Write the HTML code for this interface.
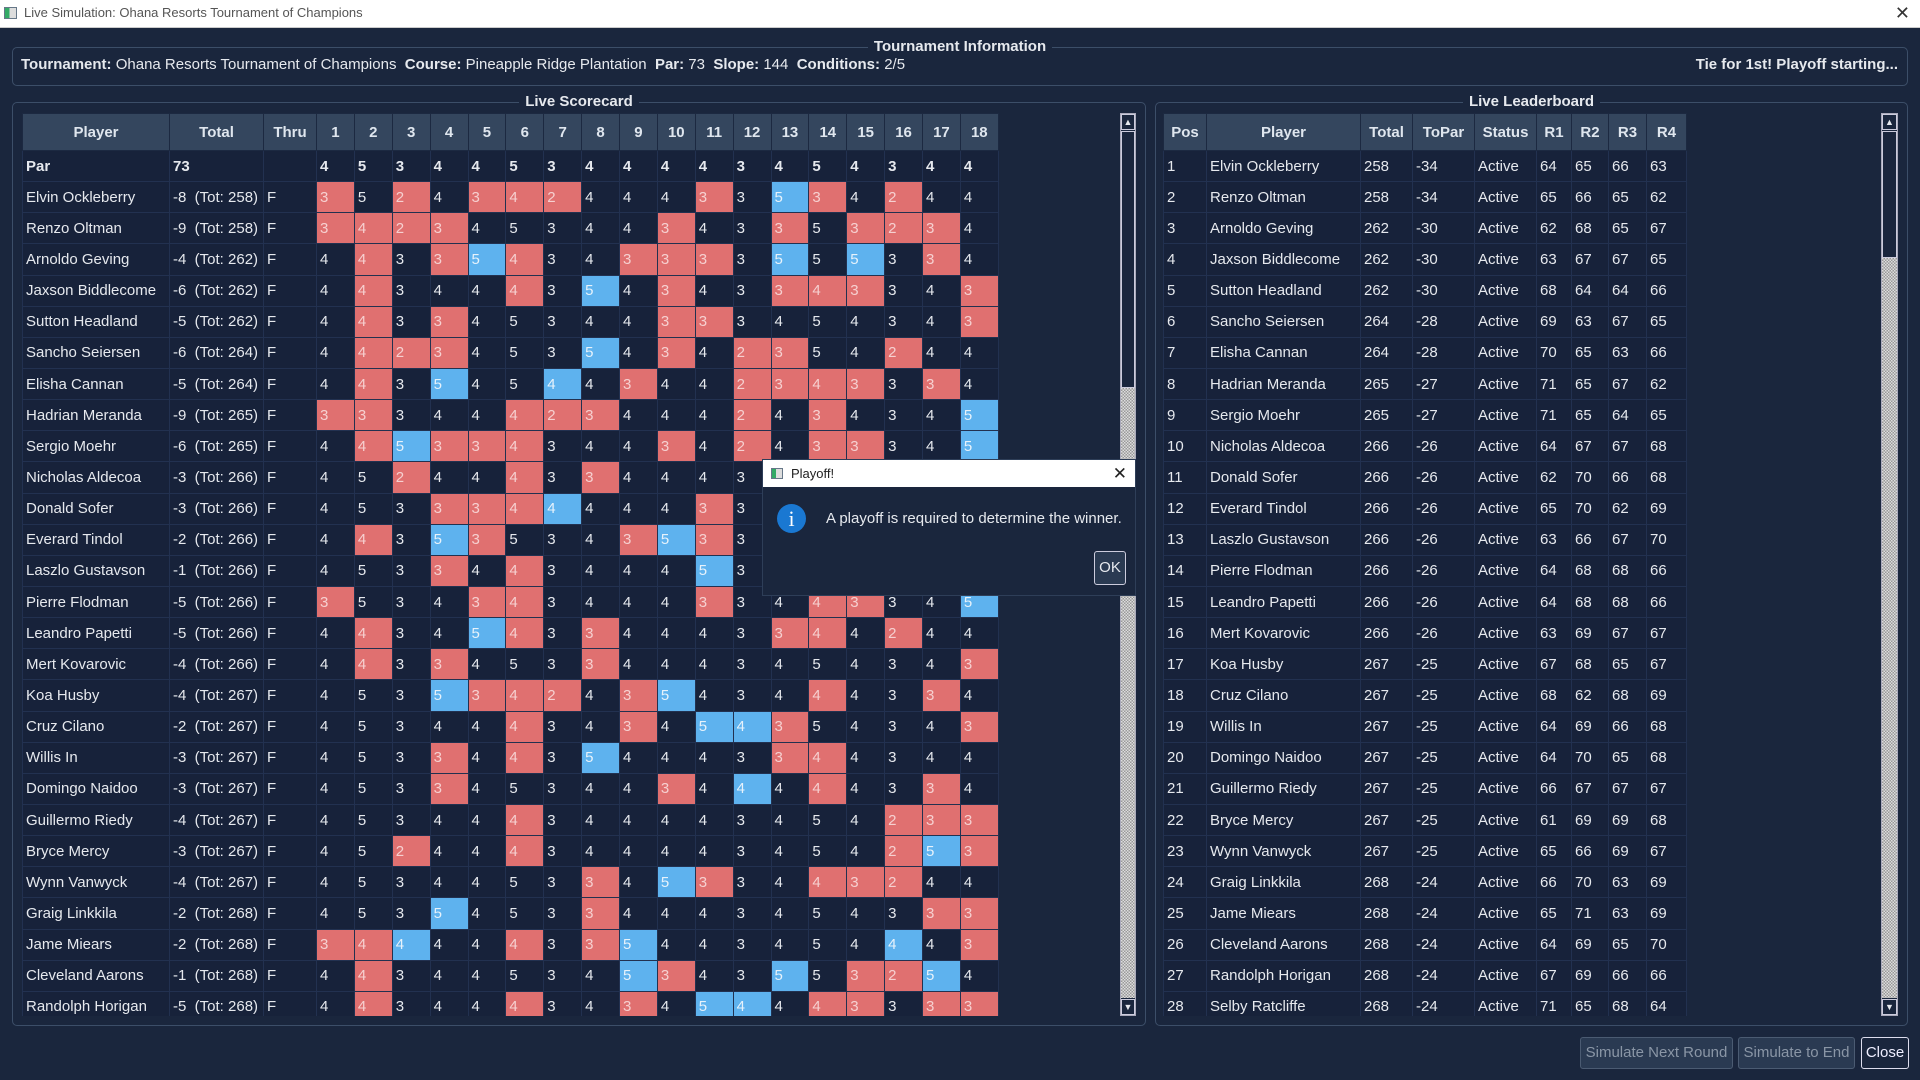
<!DOCTYPE html>
<html><head><meta charset="utf-8">
<style>
*{box-sizing:border-box;margin:0;padding:0}
body{width:1920px;height:1080px;background:#1a263d;font-family:"Liberation Sans",sans-serif;color:#e6e9ee;position:relative;overflow:hidden}
.titlebar{position:absolute;left:0;top:0;width:1920px;height:28px;background:#fff;color:#555;font-size:13px;line-height:26px;padding-left:24px;border-bottom:1px solid #ccc}
.titlebar .ic{position:absolute;left:4px;top:7px;width:13px;height:12px;border:1px solid #678;background:linear-gradient(90deg,#3a6 0 40%,#ddd 40%)}
.titlebar .x{position:absolute;right:10px;top:0;font-size:18px;color:#333}
.grp{position:absolute;border:1px solid #3c4e68;border-radius:5px}
.gt{position:absolute;top:-10px;left:0;right:0;text-align:center;font-weight:bold;font-size:15px;line-height:18px}
.gt span{background:#1a263d;padding:0 6px}
.info{position:absolute;left:21px;top:56px;font-size:15px;line-height:18px}
.info b{font-weight:bold}
.clip{position:absolute;overflow:hidden;background:#1a263d}
table{border-collapse:collapse;table-layout:fixed;font-size:15px}
th{background:#34465e;height:37px;font-weight:bold;border:1px solid #1c2941;color:#dfe6ee;text-align:center}
td{height:31.15px;border:1px solid #223150;background:#17223a;padding-left:3px;white-space:nowrap;overflow:hidden}
td.r{background:#e07070;color:#f6d0d0}
td.b{background:#5eb2ee;color:#e6f2fb}
tr.par td{font-weight:bold}
.sb{position:absolute;background:#1a263d;border:1px solid #aab}
.sbt{position:absolute;left:0;right:0;border:1px solid #ccd;background:#1a263d}
.chk{position:absolute;left:0;right:0;background:repeating-conic-gradient(#999 0 25%,#ddd 0 50%) 0 0/3px 3px}
.btn{position:absolute;border:1px solid #4b5b72;border-radius:3px;background:#2a3a52;color:#8a96a6;font-size:15px;text-align:center;line-height:30px}
.dlg{position:absolute;left:762px;top:459px;width:374px;height:137px;background:#1a263d;border:1px solid #2e3e58}
.dtb{height:27px;background:#fff;color:#222;font-size:13px;line-height:27px;padding-left:28px;position:relative}
</style></head><body>
<div class="titlebar"><div class="ic"></div>Live Simulation: Ohana Resorts Tournament of Champions<span class="x">✕</span></div>

<div class="grp" style="left:12px;top:47px;width:1896px;height:39px"><div class="gt"><span>Tournament Information</span></div></div>
<div class="info"><b>Tournament:</b> Ohana Resorts Tournament of Champions&nbsp; <b>Course:</b> Pineapple Ridge Plantation&nbsp; <b>Par:</b> 73&nbsp; <b>Slope:</b> 144&nbsp; <b>Conditions:</b> 2/5</div>
<div style="position:absolute;right:22px;top:56px;font-size:15px;font-weight:bold;line-height:18px">Tie for 1st! Playoff starting...</div>

<div class="grp" style="left:12px;top:102px;width:1134px;height:924px"><div class="gt"><span>Live Scorecard</span></div></div>
<div class="grp" style="left:1155px;top:102px;width:753px;height:924px"><div class="gt"><span>Live Leaderboard</span></div></div>

<div class="clip" style="left:22px;top:113px;width:1096px;height:903px">
<table style="width:976px">
<colgroup><col style="width:147px"><col style="width:94px"><col style="width:53px"><col span="18" style="width:37.888px"></colgroup>
<tr><th>Player</th><th>Total</th><th>Thru</th><th>1</th><th>2</th><th>3</th><th>4</th><th>5</th><th>6</th><th>7</th><th>8</th><th>9</th><th>10</th><th>11</th><th>12</th><th>13</th><th>14</th><th>15</th><th>16</th><th>17</th><th>18</th></tr>
<tr class="par"><td>Par</td><td>73</td><td></td><td>4</td><td>5</td><td>3</td><td>4</td><td>4</td><td>5</td><td>3</td><td>4</td><td>4</td><td>4</td><td>4</td><td>3</td><td>4</td><td>5</td><td>4</td><td>3</td><td>4</td><td>4</td></tr>
<tr><td>Elvin Ockleberry</td><td>-8&nbsp; (Tot: 258)</td><td>F</td><td class=r>3</td><td>5</td><td class=r>2</td><td>4</td><td class=r>3</td><td class=r>4</td><td class=r>2</td><td>4</td><td>4</td><td>4</td><td class=r>3</td><td>3</td><td class=b>5</td><td class=r>3</td><td>4</td><td class=r>2</td><td>4</td><td>4</td></tr>
<tr><td>Renzo Oltman</td><td>-9&nbsp; (Tot: 258)</td><td>F</td><td class=r>3</td><td class=r>4</td><td class=r>2</td><td class=r>3</td><td>4</td><td>5</td><td>3</td><td>4</td><td>4</td><td class=r>3</td><td>4</td><td>3</td><td class=r>3</td><td>5</td><td class=r>3</td><td class=r>2</td><td class=r>3</td><td>4</td></tr>
<tr><td>Arnoldo Geving</td><td>-4&nbsp; (Tot: 262)</td><td>F</td><td>4</td><td class=r>4</td><td>3</td><td class=r>3</td><td class=b>5</td><td class=r>4</td><td>3</td><td>4</td><td class=r>3</td><td class=r>3</td><td class=r>3</td><td>3</td><td class=b>5</td><td>5</td><td class=b>5</td><td>3</td><td class=r>3</td><td>4</td></tr>
<tr><td>Jaxson Biddlecome</td><td>-6&nbsp; (Tot: 262)</td><td>F</td><td>4</td><td class=r>4</td><td>3</td><td>4</td><td>4</td><td class=r>4</td><td>3</td><td class=b>5</td><td>4</td><td class=r>3</td><td>4</td><td>3</td><td class=r>3</td><td class=r>4</td><td class=r>3</td><td>3</td><td>4</td><td class=r>3</td></tr>
<tr><td>Sutton Headland</td><td>-5&nbsp; (Tot: 262)</td><td>F</td><td>4</td><td class=r>4</td><td>3</td><td class=r>3</td><td>4</td><td>5</td><td>3</td><td>4</td><td>4</td><td class=r>3</td><td class=r>3</td><td>3</td><td>4</td><td>5</td><td>4</td><td>3</td><td>4</td><td class=r>3</td></tr>
<tr><td>Sancho Seiersen</td><td>-6&nbsp; (Tot: 264)</td><td>F</td><td>4</td><td class=r>4</td><td class=r>2</td><td class=r>3</td><td>4</td><td>5</td><td>3</td><td class=b>5</td><td>4</td><td class=r>3</td><td>4</td><td class=r>2</td><td class=r>3</td><td>5</td><td>4</td><td class=r>2</td><td>4</td><td>4</td></tr>
<tr><td>Elisha Cannan</td><td>-5&nbsp; (Tot: 264)</td><td>F</td><td>4</td><td class=r>4</td><td>3</td><td class=b>5</td><td>4</td><td>5</td><td class=b>4</td><td>4</td><td class=r>3</td><td>4</td><td>4</td><td class=r>2</td><td class=r>3</td><td class=r>4</td><td class=r>3</td><td>3</td><td class=r>3</td><td>4</td></tr>
<tr><td>Hadrian Meranda</td><td>-9&nbsp; (Tot: 265)</td><td>F</td><td class=r>3</td><td class=r>3</td><td>3</td><td>4</td><td>4</td><td class=r>4</td><td class=r>2</td><td class=r>3</td><td>4</td><td>4</td><td>4</td><td class=r>2</td><td>4</td><td class=r>3</td><td>4</td><td>3</td><td>4</td><td class=b>5</td></tr>
<tr><td>Sergio Moehr</td><td>-6&nbsp; (Tot: 265)</td><td>F</td><td>4</td><td class=r>4</td><td class=b>5</td><td class=r>3</td><td class=r>3</td><td class=r>4</td><td>3</td><td>4</td><td>4</td><td class=r>3</td><td>4</td><td class=r>2</td><td>4</td><td class=r>3</td><td class=r>3</td><td>3</td><td>4</td><td class=b>5</td></tr>
<tr><td>Nicholas Aldecoa</td><td>-3&nbsp; (Tot: 266)</td><td>F</td><td>4</td><td>5</td><td class=r>2</td><td>4</td><td>4</td><td class=r>4</td><td>3</td><td class=r>3</td><td>4</td><td>4</td><td>4</td><td>3</td><td>4</td><td>5</td><td>4</td><td>3</td><td>4</td><td>4</td></tr>
<tr><td>Donald Sofer</td><td>-3&nbsp; (Tot: 266)</td><td>F</td><td>4</td><td>5</td><td>3</td><td class=r>3</td><td class=r>3</td><td class=r>4</td><td class=b>4</td><td>4</td><td>4</td><td>4</td><td class=r>3</td><td>3</td><td>4</td><td>5</td><td>4</td><td>3</td><td>4</td><td>4</td></tr>
<tr><td>Everard Tindol</td><td>-2&nbsp; (Tot: 266)</td><td>F</td><td>4</td><td class=r>4</td><td>3</td><td class=b>5</td><td class=r>3</td><td>5</td><td>3</td><td>4</td><td class=r>3</td><td class=b>5</td><td class=r>3</td><td>3</td><td>4</td><td>5</td><td>4</td><td>3</td><td>4</td><td>4</td></tr>
<tr><td>Laszlo Gustavson</td><td>-1&nbsp; (Tot: 266)</td><td>F</td><td>4</td><td>5</td><td>3</td><td class=r>3</td><td>4</td><td class=r>4</td><td>3</td><td>4</td><td>4</td><td>4</td><td class=b>5</td><td>3</td><td>4</td><td>5</td><td>4</td><td>3</td><td>4</td><td>4</td></tr>
<tr><td>Pierre Flodman</td><td>-5&nbsp; (Tot: 266)</td><td>F</td><td class=r>3</td><td>5</td><td>3</td><td>4</td><td class=r>3</td><td class=r>4</td><td>3</td><td>4</td><td>4</td><td>4</td><td class=r>3</td><td>3</td><td>4</td><td class=r>4</td><td class=r>3</td><td>3</td><td>4</td><td class=b>5</td></tr>
<tr><td>Leandro Papetti</td><td>-5&nbsp; (Tot: 266)</td><td>F</td><td>4</td><td class=r>4</td><td>3</td><td>4</td><td class=b>5</td><td class=r>4</td><td>3</td><td class=r>3</td><td>4</td><td>4</td><td>4</td><td>3</td><td class=r>3</td><td class=r>4</td><td>4</td><td class=r>2</td><td>4</td><td>4</td></tr>
<tr><td>Mert Kovarovic</td><td>-4&nbsp; (Tot: 266)</td><td>F</td><td>4</td><td class=r>4</td><td>3</td><td class=r>3</td><td>4</td><td>5</td><td>3</td><td class=r>3</td><td>4</td><td>4</td><td>4</td><td>3</td><td>4</td><td>5</td><td>4</td><td>3</td><td>4</td><td class=r>3</td></tr>
<tr><td>Koa Husby</td><td>-4&nbsp; (Tot: 267)</td><td>F</td><td>4</td><td>5</td><td>3</td><td class=b>5</td><td class=r>3</td><td class=r>4</td><td class=r>2</td><td>4</td><td class=r>3</td><td class=b>5</td><td>4</td><td>3</td><td>4</td><td class=r>4</td><td>4</td><td>3</td><td class=r>3</td><td>4</td></tr>
<tr><td>Cruz Cilano</td><td>-2&nbsp; (Tot: 267)</td><td>F</td><td>4</td><td>5</td><td>3</td><td>4</td><td>4</td><td class=r>4</td><td>3</td><td>4</td><td class=r>3</td><td>4</td><td class=b>5</td><td class=b>4</td><td class=r>3</td><td>5</td><td>4</td><td>3</td><td>4</td><td class=r>3</td></tr>
<tr><td>Willis In</td><td>-3&nbsp; (Tot: 267)</td><td>F</td><td>4</td><td>5</td><td>3</td><td class=r>3</td><td>4</td><td class=r>4</td><td>3</td><td class=b>5</td><td>4</td><td>4</td><td>4</td><td>3</td><td class=r>3</td><td class=r>4</td><td>4</td><td>3</td><td>4</td><td>4</td></tr>
<tr><td>Domingo Naidoo</td><td>-3&nbsp; (Tot: 267)</td><td>F</td><td>4</td><td>5</td><td>3</td><td class=r>3</td><td>4</td><td>5</td><td>3</td><td>4</td><td>4</td><td class=r>3</td><td>4</td><td class=b>4</td><td>4</td><td class=r>4</td><td>4</td><td>3</td><td class=r>3</td><td>4</td></tr>
<tr><td>Guillermo Riedy</td><td>-4&nbsp; (Tot: 267)</td><td>F</td><td>4</td><td>5</td><td>3</td><td>4</td><td>4</td><td class=r>4</td><td>3</td><td>4</td><td>4</td><td>4</td><td>4</td><td>3</td><td>4</td><td>5</td><td>4</td><td class=r>2</td><td class=r>3</td><td class=r>3</td></tr>
<tr><td>Bryce Mercy</td><td>-3&nbsp; (Tot: 267)</td><td>F</td><td>4</td><td>5</td><td class=r>2</td><td>4</td><td>4</td><td class=r>4</td><td>3</td><td>4</td><td>4</td><td>4</td><td>4</td><td>3</td><td>4</td><td>5</td><td>4</td><td class=r>2</td><td class=b>5</td><td class=r>3</td></tr>
<tr><td>Wynn Vanwyck</td><td>-4&nbsp; (Tot: 267)</td><td>F</td><td>4</td><td>5</td><td>3</td><td>4</td><td>4</td><td>5</td><td>3</td><td class=r>3</td><td>4</td><td class=b>5</td><td class=r>3</td><td>3</td><td>4</td><td class=r>4</td><td class=r>3</td><td class=r>2</td><td>4</td><td>4</td></tr>
<tr><td>Graig Linkkila</td><td>-2&nbsp; (Tot: 268)</td><td>F</td><td>4</td><td>5</td><td>3</td><td class=b>5</td><td>4</td><td>5</td><td>3</td><td class=r>3</td><td>4</td><td>4</td><td>4</td><td>3</td><td>4</td><td>5</td><td>4</td><td>3</td><td class=r>3</td><td class=r>3</td></tr>
<tr><td>Jame Miears</td><td>-2&nbsp; (Tot: 268)</td><td>F</td><td class=r>3</td><td class=r>4</td><td class=b>4</td><td>4</td><td>4</td><td class=r>4</td><td>3</td><td class=r>3</td><td class=b>5</td><td>4</td><td>4</td><td>3</td><td>4</td><td>5</td><td>4</td><td class=b>4</td><td>4</td><td class=r>3</td></tr>
<tr><td>Cleveland Aarons</td><td>-1&nbsp; (Tot: 268)</td><td>F</td><td>4</td><td class=r>4</td><td>3</td><td>4</td><td>4</td><td>5</td><td>3</td><td>4</td><td class=b>5</td><td class=r>3</td><td>4</td><td>3</td><td class=b>5</td><td>5</td><td class=r>3</td><td class=r>2</td><td class=b>5</td><td>4</td></tr>
<tr><td>Randolph Horigan</td><td>-5&nbsp; (Tot: 268)</td><td>F</td><td>4</td><td class=r>4</td><td>3</td><td>4</td><td>4</td><td class=r>4</td><td>3</td><td>4</td><td class=r>3</td><td>4</td><td class=b>5</td><td class=b>4</td><td>4</td><td class=r>4</td><td class=r>3</td><td>3</td><td class=r>3</td><td class=r>3</td></tr>
</table>
</div>
<div class="sb" style="left:1120px;top:113px;width:16px;height:903px">
<div class="sbt" style="top:0;height:16px;text-align:center;font-size:9px;line-height:14px">▲</div>
<div class="sbt" style="top:17px;height:257px"></div>
<div class="chk" style="top:274px;bottom:17px"></div>
<div class="sbt" style="bottom:0;height:16px;text-align:center;font-size:9px;line-height:14px">▼</div>
</div>

<div class="clip" style="left:1163px;top:113px;width:716px;height:903px">
<table style="width:523px">
<colgroup><col style="width:43px"><col style="width:154px"><col style="width:52px"><col style="width:62px"><col style="width:62px"><col style="width:35px"><col style="width:37px"><col style="width:38px"><col style="width:40px"></colgroup>
<tr><th>Pos</th><th>Player</th><th>Total</th><th>ToPar</th><th>Status</th><th>R1</th><th>R2</th><th>R3</th><th>R4</th></tr>
<tr><td>1</td><td>Elvin Ockleberry</td><td>258</td><td>-34</td><td>Active</td><td>64</td><td>65</td><td>66</td><td>63</td></tr>
<tr><td>2</td><td>Renzo Oltman</td><td>258</td><td>-34</td><td>Active</td><td>65</td><td>66</td><td>65</td><td>62</td></tr>
<tr><td>3</td><td>Arnoldo Geving</td><td>262</td><td>-30</td><td>Active</td><td>62</td><td>68</td><td>65</td><td>67</td></tr>
<tr><td>4</td><td>Jaxson Biddlecome</td><td>262</td><td>-30</td><td>Active</td><td>63</td><td>67</td><td>67</td><td>65</td></tr>
<tr><td>5</td><td>Sutton Headland</td><td>262</td><td>-30</td><td>Active</td><td>68</td><td>64</td><td>64</td><td>66</td></tr>
<tr><td>6</td><td>Sancho Seiersen</td><td>264</td><td>-28</td><td>Active</td><td>69</td><td>63</td><td>67</td><td>65</td></tr>
<tr><td>7</td><td>Elisha Cannan</td><td>264</td><td>-28</td><td>Active</td><td>70</td><td>65</td><td>63</td><td>66</td></tr>
<tr><td>8</td><td>Hadrian Meranda</td><td>265</td><td>-27</td><td>Active</td><td>71</td><td>65</td><td>67</td><td>62</td></tr>
<tr><td>9</td><td>Sergio Moehr</td><td>265</td><td>-27</td><td>Active</td><td>71</td><td>65</td><td>64</td><td>65</td></tr>
<tr><td>10</td><td>Nicholas Aldecoa</td><td>266</td><td>-26</td><td>Active</td><td>64</td><td>67</td><td>67</td><td>68</td></tr>
<tr><td>11</td><td>Donald Sofer</td><td>266</td><td>-26</td><td>Active</td><td>62</td><td>70</td><td>66</td><td>68</td></tr>
<tr><td>12</td><td>Everard Tindol</td><td>266</td><td>-26</td><td>Active</td><td>65</td><td>70</td><td>62</td><td>69</td></tr>
<tr><td>13</td><td>Laszlo Gustavson</td><td>266</td><td>-26</td><td>Active</td><td>63</td><td>66</td><td>67</td><td>70</td></tr>
<tr><td>14</td><td>Pierre Flodman</td><td>266</td><td>-26</td><td>Active</td><td>64</td><td>68</td><td>68</td><td>66</td></tr>
<tr><td>15</td><td>Leandro Papetti</td><td>266</td><td>-26</td><td>Active</td><td>64</td><td>68</td><td>68</td><td>66</td></tr>
<tr><td>16</td><td>Mert Kovarovic</td><td>266</td><td>-26</td><td>Active</td><td>63</td><td>69</td><td>67</td><td>67</td></tr>
<tr><td>17</td><td>Koa Husby</td><td>267</td><td>-25</td><td>Active</td><td>67</td><td>68</td><td>65</td><td>67</td></tr>
<tr><td>18</td><td>Cruz Cilano</td><td>267</td><td>-25</td><td>Active</td><td>68</td><td>62</td><td>68</td><td>69</td></tr>
<tr><td>19</td><td>Willis In</td><td>267</td><td>-25</td><td>Active</td><td>64</td><td>69</td><td>66</td><td>68</td></tr>
<tr><td>20</td><td>Domingo Naidoo</td><td>267</td><td>-25</td><td>Active</td><td>64</td><td>70</td><td>65</td><td>68</td></tr>
<tr><td>21</td><td>Guillermo Riedy</td><td>267</td><td>-25</td><td>Active</td><td>66</td><td>67</td><td>67</td><td>67</td></tr>
<tr><td>22</td><td>Bryce Mercy</td><td>267</td><td>-25</td><td>Active</td><td>61</td><td>69</td><td>69</td><td>68</td></tr>
<tr><td>23</td><td>Wynn Vanwyck</td><td>267</td><td>-25</td><td>Active</td><td>65</td><td>66</td><td>69</td><td>67</td></tr>
<tr><td>24</td><td>Graig Linkkila</td><td>268</td><td>-24</td><td>Active</td><td>66</td><td>70</td><td>63</td><td>69</td></tr>
<tr><td>25</td><td>Jame Miears</td><td>268</td><td>-24</td><td>Active</td><td>65</td><td>71</td><td>63</td><td>69</td></tr>
<tr><td>26</td><td>Cleveland Aarons</td><td>268</td><td>-24</td><td>Active</td><td>64</td><td>69</td><td>65</td><td>70</td></tr>
<tr><td>27</td><td>Randolph Horigan</td><td>268</td><td>-24</td><td>Active</td><td>67</td><td>69</td><td>66</td><td>66</td></tr>
<tr><td>28</td><td>Selby Ratcliffe</td><td>268</td><td>-24</td><td>Active</td><td>71</td><td>65</td><td>68</td><td>64</td></tr>
</table>
</div>
<div class="sb" style="left:1881px;top:113px;width:17px;height:903px">
<div class="sbt" style="top:0;height:16px;text-align:center;font-size:9px;line-height:14px">▲</div>
<div class="sbt" style="top:17px;height:127px"></div>
<div class="chk" style="top:144px;bottom:17px"></div>
<div class="sbt" style="bottom:0;height:16px;text-align:center;font-size:9px;line-height:14px">▼</div>
</div>

<div class="btn" style="left:1580px;top:1037px;width:153px;height:32px">Simulate Next Round</div>
<div class="btn" style="left:1738px;top:1037px;width:117px;height:32px">Simulate to End</div>
<div class="btn" style="left:1861px;top:1037px;width:48px;height:32px;border-color:#dde;color:#eef;background:#1a263d">Close</div>

<div class="dlg">
<div class="dtb"><span style="position:absolute;left:8px;top:8px;width:12px;height:11px;border:1px solid #678;background:linear-gradient(90deg,#3a6 0 40%,#ddd 40%)"></span>Playoff!<span style="position:absolute;right:8px;top:0;font-size:17px">✕</span></div>
<div style="position:absolute;left:14px;top:44px;width:29px;height:29px;border-radius:50%;background:#1a78d2;color:#fff;text-align:center;font-size:22px;line-height:29px;font-family:'Liberation Serif',serif">i</div>
<div style="position:absolute;left:63px;top:50px;font-size:15px;color:#e6e9ee">A playoff is required to determine the winner.</div>
<div style="position:absolute;left:331px;top:91px;width:32px;height:34px;border:1px solid #ccd;border-radius:3px;background:#2a3a52;text-align:center;line-height:32px;font-size:15px">OK</div>
</div>
</body></html>
